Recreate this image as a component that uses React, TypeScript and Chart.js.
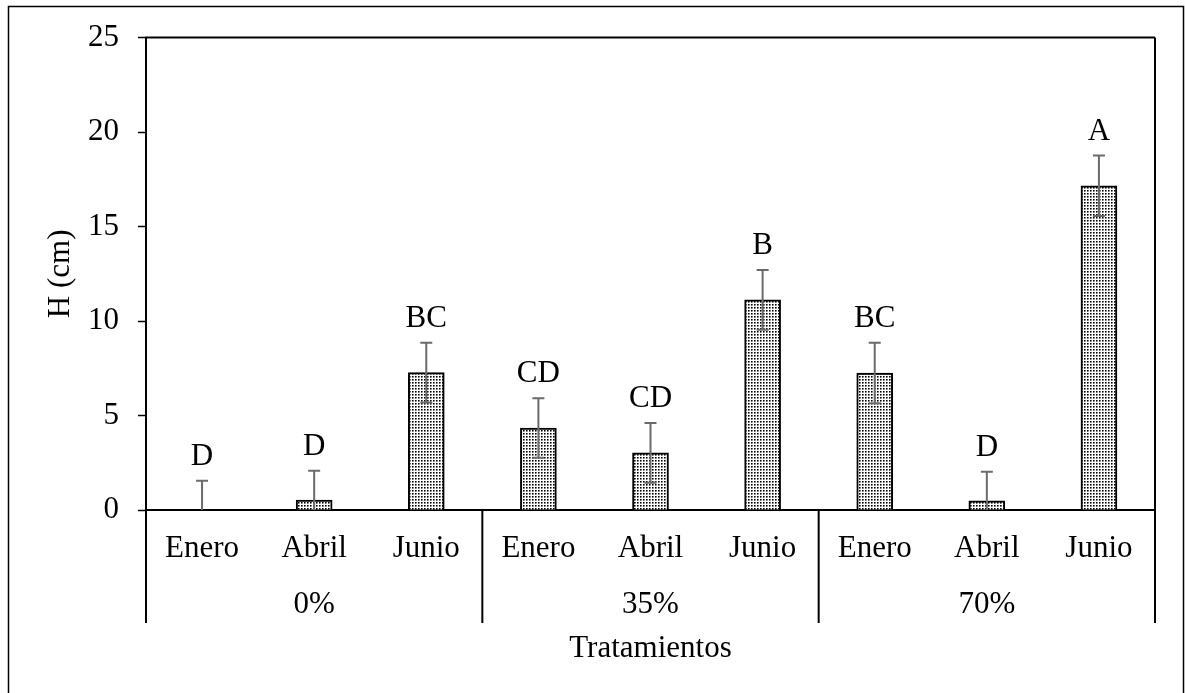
import React, { useEffect, useRef } from "react";
import { Chart, registerables } from "chart.js";

Chart.register(...registerables);

const months = ["Enero", "Abril", "Junio", "Enero", "Abril", "Junio", "Enero", "Abril", "Junio"];
const groups = ["0%", "35%", "70%"];
const heightValues = [0, 0.53, 7.27, 4.34, 3.02, 11.12, 7.25, 0.48, 17.16];
const errorValues = [1.55, 1.55, 1.58, 1.58, 1.58, 1.58, 1.6, 1.55, 1.6];
const letters = ["D", "D", "BC", "CD", "CD", "B", "BC", "D", "A"];
const yMin = 0;
const yMax = 25;
const yStep = 5;
const yTitle = "H (cm)";
const xTitle = "Tratamientos";

const FONT = "'Liberation Serif', 'Times New Roman', serif";
const FS = 31;

function makePattern(): CanvasPattern | string {
  const c = document.createElement("canvas");
  c.width = 3;
  c.height = 3;
  const g = c.getContext("2d");
  if (!g) return "#ccc";
  g.fillStyle = "#fff";
  g.fillRect(0, 0, 3, 3);
  g.fillStyle = "#000";
  g.fillRect(1, 1, 1, 1);
  g.fillStyle = "#666";
  g.fillRect(2, 1, 1, 1);
  g.fillRect(1, 2, 1, 1);
  g.fillStyle = "#b0b0b0";
  g.fillRect(2, 2, 1, 1);
  const p = g.createPattern(c, "repeat");
  return p || "#ccc";
}

const decorPlugin = {
  id: "decor",
  afterDatasetsDraw(chart: any) {
    const { ctx, scales } = chart;
    const x = scales.x;
    const y = scales.y;
    ctx.save();
    heightValues.forEach((v, i) => {
      const px = x.getPixelForValue(i);
      const e = errorValues[i];
      const top = y.getPixelForValue(v + e);
      const low = v - e;
      const bottom = y.getPixelForValue(Math.max(low, 0));
      ctx.strokeStyle = "#6b6b6b";
      ctx.lineWidth = 2;
      ctx.beginPath();
      ctx.moveTo(px, top);
      ctx.lineTo(px, bottom);
      ctx.moveTo(px - 6, top);
      ctx.lineTo(px + 6, top);
      if (low > 0) {
        ctx.moveTo(px - 6, bottom);
        ctx.lineTo(px + 6, bottom);
      }
      ctx.stroke();
      ctx.fillStyle = "#000";
      ctx.font = `${FS}px ${FONT}`;
      ctx.textAlign = "center";
      ctx.textBaseline = "middle";
      ctx.fillText(letters[i], px, top - 24);
    });
    ctx.restore();
  },
  afterDraw(chart: any) {
    const { ctx, chartArea, scales } = chart;
    const x = scales.x;
    const { left, right, top, bottom } = chartArea;
    const lower = bottom + 113;
    ctx.save();
    ctx.strokeStyle = "#000";
    ctx.lineWidth = 2;
    ctx.beginPath();
    ctx.moveTo(left - 1, top);
    ctx.lineTo(right, top);
    ctx.moveTo(right, top);
    ctx.lineTo(right, lower);
    ctx.moveTo(left, bottom);
    ctx.lineTo(left, lower);
    ctx.stroke();
    const per = months.length / groups.length;
    ctx.font = `${FS}px ${FONT}`;
    ctx.fillStyle = "#000";
    ctx.textAlign = "center";
    ctx.textBaseline = "middle";
    groups.forEach((gname, gi) => {
      const first = gi * per;
      const last = first + per - 1;
      const cx = (x.getPixelForValue(first) + x.getPixelForValue(last)) / 2;
      ctx.fillText(gname, cx, bottom + 95);
      if (gi < groups.length - 1) {
        const sx = (x.getPixelForValue(last) + x.getPixelForValue(last + 1)) / 2;
        ctx.beginPath();
        ctx.moveTo(sx, bottom);
        ctx.lineTo(sx, lower);
        ctx.stroke();
      }
    });
    ctx.lineWidth = 1.5;
    ctx.beginPath();
    ctx.moveTo(8.5, chart.height + 5);
    ctx.lineTo(8.5, 6.5);
    ctx.lineTo(1183.5, 6.5);
    ctx.lineTo(1183.5, chart.height + 5);
    ctx.stroke();
    ctx.restore();
  },
};

export default function App() {
  const ref = useRef<HTMLCanvasElement | null>(null);
  useEffect(() => {
    if (!ref.current) return;
    const chart = new Chart(ref.current, {
      type: "bar",
      data: {
        labels: months,
        datasets: [
          {
            data: heightValues,
            backgroundColor: makePattern() as any,
            borderColor: "#000",
            borderWidth: 2,
            barThickness: 36,
          },
        ],
      },
      options: {
        responsive: false,
        animation: false,
        events: [],
        layout: { padding: { left: 0, right: 30, top: 37, bottom: 0 } },
        plugins: { legend: { display: false }, tooltip: { enabled: false } },
        scales: {
          x: {
            afterFit: (s: any) => {
              s.height = 183;
            },
            grid: { display: false, drawTicks: false },
            border: { display: true, color: "#000", width: 2 },
            ticks: {
              autoSkip: false,
              maxRotation: 0,
              color: "#000",
              padding: 20,
              font: { family: FONT, size: FS },
            },
            title: {
              display: true,
              text: xTitle,
              color: "#000",
              font: { family: FONT, size: FS },
              padding: { top: 0, bottom: 26 },
            },
          },
          y: {
            min: yMin,
            max: yMax,
            afterFit: (s: any) => {
              s.width = 146;
            },
            grid: {
              drawOnChartArea: false,
              drawTicks: true,
              tickLength: 8,
              tickWidth: 1.5,
              tickColor: "#000",
            },
            border: { display: true, color: "#000", width: 2 },
            ticks: {
              stepSize: yStep,
              color: "#000",
              padding: 19,
              font: { family: FONT, size: FS },
            },
            title: {
              display: true,
              text: yTitle,
              color: "#000",
              font: { family: FONT, size: FS },
              padding: { top: 42, bottom: 0 },
            },
          },
        },
      },
      plugins: [decorPlugin],
    });
    return () => chart.destroy();
  }, []);
  return (
    <div style={{ position: "absolute", left: 0, top: 0, width: 1185, height: 693, background: "#fff" }}>
      <canvas ref={ref} width={1185} height={693} style={{ display: "block" }} />
    </div>
  );
}
